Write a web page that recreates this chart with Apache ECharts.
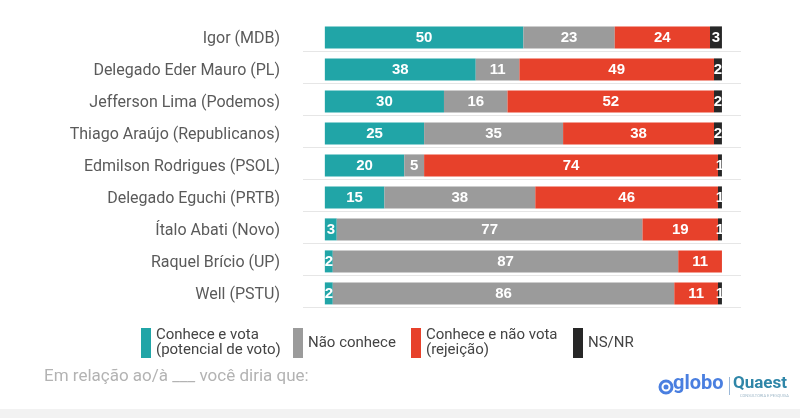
<!DOCTYPE html>
<html><head><meta charset="utf-8">
<script src="https://cdn.jsdelivr.net/npm/echarts@6/dist/echarts.min.js"></script>
<style>html,body{margin:0;padding:0;background:#fff}#c{width:800px;height:418px}</style>
</head><body><div id="c"></div>
<script>
const candidates = ['Igor (MDB)','Delegado Eder Mauro (PL)','Jefferson Lima (Podemos)','Thiago Araújo (Republicanos)','Edmilson Rodrigues (PSOL)','Delegado Eguchi (PRTB)','Ítalo Abati (Novo)','Raquel Brício (UP)','Well (PSTU)'];
const conheceVota = [50,38,30,25,20,15,3,2,2];
const naoConhece = [23,11,16,35,5,38,77,87,86];
const rejeicao = [24,49,52,38,74,46,19,11,11];
const nsnr = [3,2,2,2,1,1,1,0,1];
const seriesNames = ['Conhece e vota\n(potencial de voto)','Não conhece','Conhece e não vota\n(rejeição)','NS/NR'];
const colors = ['#21a5a7','#9b9b9b','#e7412b','#272727'];
const legendLefts = [141, 293, 411, 573];

const chart = echarts.init(document.getElementById('c'));
const barLabel = {
  show: true, position: 'inside', color: '#fff',
  fontFamily: 'Liberation Sans', fontWeight: 'bold', fontSize: 15,
  formatter: p => p.value > 0 ? p.value : ''
};
const values = [conheceVota, naoConhece, rejeicao, nsnr];
const series = values.map((v, i) => ({
  name: seriesNames[i], type: 'bar', stack: 'total', barWidth: 22,
  itemStyle: {color: colors[i]}, label: barLabel, data: v, z: 3
}));
series.push({
  name: 'grid', type: 'bar', data: [], z: 1, silent: true,
  markLine: {
    silent: true, symbol: ['none','none'], label: {show: false},
    lineStyle: {color: '#e6e6e6', width: 1, type: 'solid'},
    data: candidates.map(c => ({yAxis: c}))
  }
});
const legends = seriesNames.map((n, i) => ({
  data: [n], left: legendLefts[i], top: 328, icon: 'rect', padding: 0,
  itemWidth: 10, itemHeight: 30, selectedMode: false,
  textStyle: {fontFamily: 'Roboto', fontSize: 15, color: '#444', lineHeight: 15}
}));
chart.setOption({
  backgroundColor: '#fff',
  animation: false,
  grid: {left: 303, right: 59, top: 23, bottom: 107, containLabel: false},
  xAxis: {type: 'value', min: -5.5, max: 104.8, show: false},
  yAxis: {
    type: 'category', data: candidates, inverse: true,
    axisLine: {show: false}, axisTick: {show: false}, splitLine: {show: false},
    axisLabel: {margin: 23, fontFamily: 'Roboto', fontSize: 16, color: '#5a5a5a'}
  },
  legend: legends,
  graphic: [
    {type: 'text', left: 44, top: 368, style: {text: 'Em relação ao/à ___ você diria que:', fontFamily: 'Roboto', fontSize: 17, fill: '#b3b3b3'}},
    {type: 'circle', shape: {cx: 666, cy: 387, r: 6}, style: {fill: 'none', stroke: '#4a7fe0', lineWidth: 3}},
    {type: 'circle', shape: {cx: 666, cy: 387, r: 2.5}, style: {fill: '#4a7fe0'}},
    {type: 'text', left: 673, top: 374, style: {text: 'globo', fontFamily: 'Roboto', fontWeight: 'bold', fontSize: 20, fill: '#4a7fe0'}},
    {type: 'rect', shape: {x: 729, y: 377, width: 1, height: 18}, style: {fill: '#9bb8d8'}},
    {type: 'text', left: 733, top: 375, style: {text: 'Quaest', fontFamily: 'Roboto', fontWeight: 'bold', fontSize: 17, fill: '#2f86a8'}},
    {type: 'text', left: 740, top: 394, style: {text: 'CONSULTORIA E PESQUISA', fontFamily: 'Roboto', fontSize: 4, fill: '#9fb8c8'}},
    {type: 'rect', shape: {x: 0, y: 409, width: 800, height: 9}, style: {fill: '#f2f2f2'}}
  ],
  series: series
});
</script></body></html>
